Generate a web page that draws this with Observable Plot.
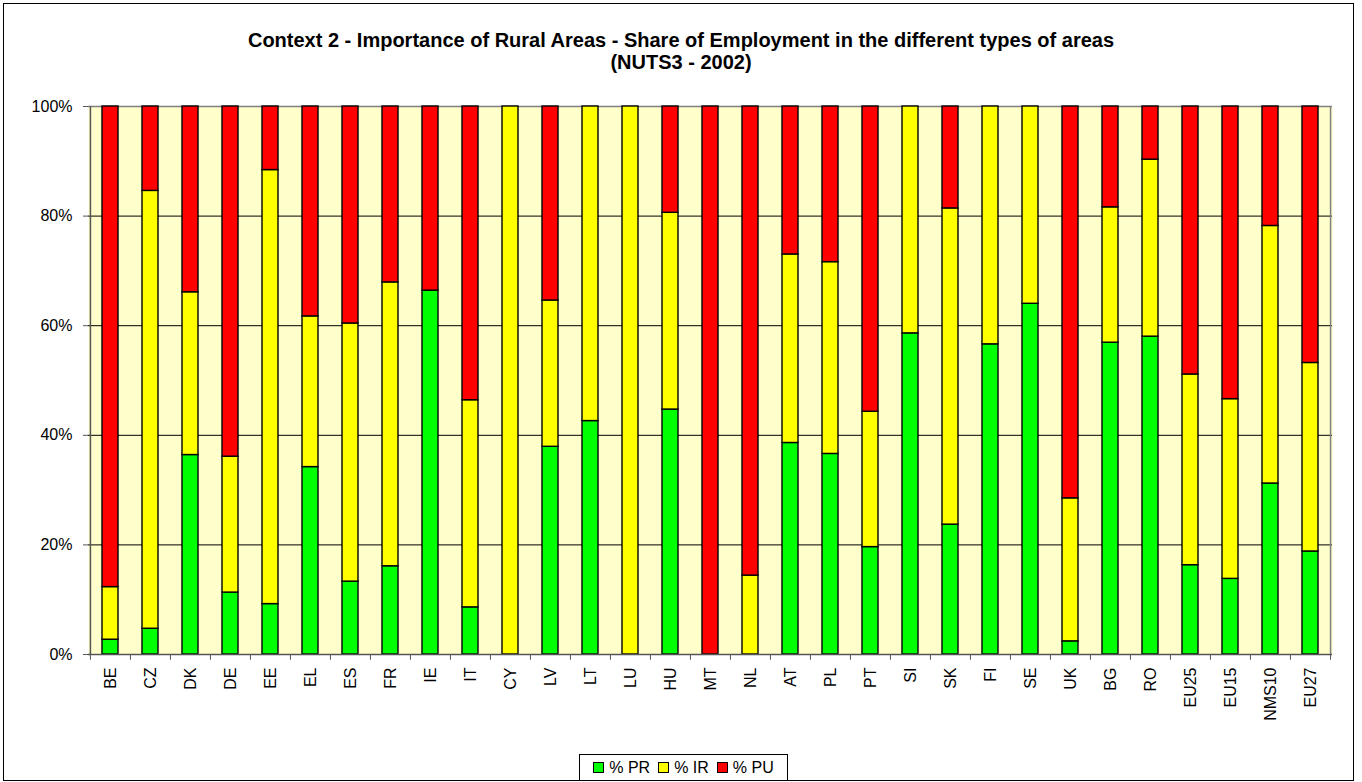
<!DOCTYPE html>
<html>
<head>
<meta charset="utf-8">
<script src="https://cdn.jsdelivr.net/npm/d3@7"></script>
<script src="https://cdn.jsdelivr.net/npm/@observablehq/plot@0.6"></script>
<style>
  body { margin: 0; background: #fff; font-family: "Liberation Sans", Arial, sans-serif; }
  #wrap { position: relative; width: 1362px; height: 782px; overflow: hidden; }
  #border { position: absolute; left: 3px; top: 3px; width: 1351px; height: 778px; border: 1px solid #000; box-sizing: border-box; }
  #title { position: absolute; left: 0; top: 29px; width: 1362px; text-align: center; font-weight: bold; font-size: 20px; line-height: 22px; color: #000; }
  #chart { position: absolute; left: 0; top: 0; }
  #legend { position: absolute; left: 579px; top: 754px; width: 209px; height: 27px; box-sizing: border-box; border: 1px solid #000; background: #fff; font-size: 16px; display: flex; align-items: center; justify-content: center; }
  .item { display: flex; align-items: center; margin: 0 4px; }
  .sw { width: 11px; height: 11px; box-sizing: border-box; border: 1px solid #000; margin-right: 5px; }
</style>
</head>
<body>
<div id="wrap">
  <div id="border"></div>
  <div id="chart"></div>
  <div id="title">Context 2 - Importance of Rural Areas - Share of Employment in the different types of areas<br>(NUTS3 - 2002)</div>
  <div id="legend"></div>
</div>
<script>
const categories = ["BE","CZ","DK","DE","EE","EL","ES","FR","IE","IT","CY","LV","LT","LU","HU","MT","NL","AT","PL","PT","SI","SK","FI","SE","UK","BG","RO","EU25","EU15","NMS10","EU27"];
const pctPR = [2.7, 4.7, 36.4, 11.3, 9.2, 34.2, 13.3, 16.1, 66.4, 8.6, 0, 37.9, 42.6, 0, 44.7, 0, 0, 38.6, 36.6, 19.6, 58.6, 23.7, 56.6, 64.0, 2.4, 56.9, 58.0, 16.3, 13.8, 31.2, 18.8];
const pctIR = [9.6, 79.9, 29.7, 24.8, 79.2, 27.5, 47.1, 51.8, 0, 37.8, 100, 26.7, 57.4, 100, 35.9, 0, 14.4, 34.4, 35.0, 24.7, 41.4, 57.7, 43.4, 36.0, 26.1, 24.7, 32.3, 34.8, 32.8, 47.0, 34.4];
const pctPU = [87.7, 15.4, 33.9, 63.9, 11.6, 38.3, 39.6, 32.1, 33.6, 53.6, 0, 35.4, 0, 0, 19.4, 100, 85.6, 27.0, 28.4, 55.7, 0, 18.6, 0, 0, 71.5, 18.4, 9.7, 48.9, 53.4, 21.8, 46.8];
const seriesNames = ["% PR", "% IR", "% PU"];
const seriesColors = ["#00FF00", "#FFFF00", "#FF0000"];
const yTicks = [0, 0.2, 0.4, 0.6, 0.8, 1.0];

const seriesValues = [pctPR, pctIR, pctPU];
const rows = [];
categories.forEach((c, i) => {
  seriesNames.forEach((s, k) => {
    rows.push({cat: c, series: s, value: seriesValues[k][i] / 100});
  });
});

const W = 1362, H = 745;
const mL = 88, mR = 30, mT = 106, mB = 91;
const step = (W - mL - mR) / categories.length;

const chart = Plot.plot({
  width: W,
  height: H,
  marginLeft: mL,
  marginRight: mR,
  marginTop: mT,
  marginBottom: mB,
  style: {fontFamily: "'Liberation Sans', Arial, sans-serif", fontSize: "16px", color: "#000", background: "transparent"},
  x: {domain: categories, paddingInner: 0.6, paddingOuter: 0.3, label: null},
  y: {domain: [0, 1], label: null},
  color: {domain: seriesNames, range: seriesColors},
  marks: [
    Plot.frame({fill: "#FFFFCC", stroke: "none"}),
    Plot.gridY(yTicks.slice(1, 5), {stroke: "#000", strokeOpacity: 1, strokeWidth: 1}),
    Plot.ruleY([1], {stroke: "#808080", strokeWidth: 1.5}),
    Plot.ruleX([categories[categories.length - 1]], {dx: step / 2, stroke: "#808080", strokeWidth: 1.5}),
    Plot.barY(rows.filter(d => d.value > 0), Plot.stackY({order: seriesNames, x: "cat", y: "value", fill: "series", stroke: "#000", strokeWidth: 1.4})),
    Plot.ruleX([categories[0]], {dx: -step / 2, stroke: "#555", strokeWidth: 1.5}),
    Plot.ruleY([0], {stroke: "#555", strokeWidth: 1.5}),
    Plot.ruleX(categories, {dx: -step / 2, y1: 0, y2: -0.0105, stroke: "#555"}),
    Plot.ruleX([categories[categories.length - 1]], {dx: step / 2, y1: 0, y2: -0.0105, stroke: "#555"}),
    Plot.axisX({tickSize: 0, tickPadding: 13, tickRotate: -90, fontSize: 16, fill: "#000"}),
    Plot.axisY({ticks: yTicks, tickFormat: d3.format(".0%"), tickSize: 5, tickPadding: 11, fontSize: 16, fill: "#000", stroke: "#555"})
  ]
});
document.getElementById("chart").appendChild(chart);

const legend = document.getElementById("legend");
seriesNames.forEach((s, k) => {
  const it = document.createElement("div");
  it.className = "item";
  const sw = document.createElement("div");
  sw.className = "sw";
  sw.style.background = seriesColors[k];
  const t = document.createElement("span");
  t.textContent = s;
  it.appendChild(sw);
  it.appendChild(t);
  legend.appendChild(it);
});
</script>
</body>
</html>
